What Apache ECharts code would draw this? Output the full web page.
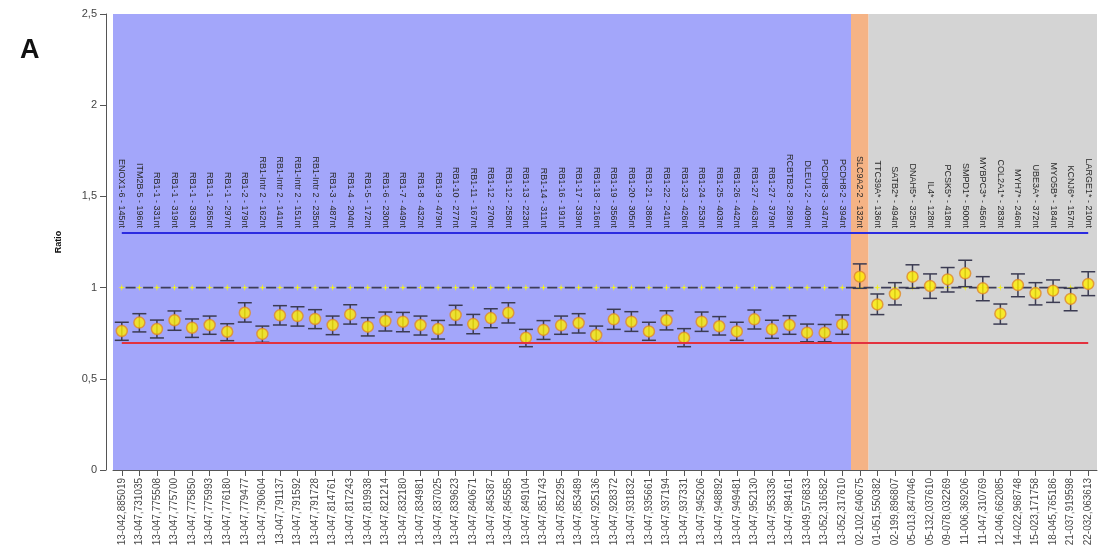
<!DOCTYPE html>
<html>
<head>
<meta charset="utf-8">
<script src="https://cdn.jsdelivr.net/npm/echarts@6/dist/echarts.min.js"></script>
<style>
  html, body { margin: 0; padding: 0; background: #ffffff; }
  #chart { width: 1100px; height: 554px; }
</style>
</head>
<body>
<div id="chart"></div>
<script>
// Probe names (top labels), split by region
const deletionProbes = [
  'ENOX1-6 - 145nt', 'ITM2B-5 - 196nt', 'RB1-1 - 331nt', 'RB1-1 - 319nt', 'RB1-1 - 363nt',
  'RB1-1 - 265nt', 'RB1-1 - 297nt', 'RB1-2 - 179nt', 'RB1-Intr 2 - 162nt', 'RB1-Intr 2 - 141nt',
  'RB1-Intr 2 - 151nt', 'RB1-Intr 2 - 235nt', 'RB1-3 - 487nt', 'RB1-4 - 204nt', 'RB1-5 - 172nt',
  'RB1-6 - 230nt', 'RB1-7 - 449nt', 'RB1-8 - 432nt', 'RB1-9 - 479nt', 'RB1-10 - 277nt',
  'RB1-11 - 167nt', 'RB1-12 - 270nt', 'RB1-12 - 258nt', 'RB1-13 - 223nt', 'RB1-14 - 311nt',
  'RB1-16 - 191nt', 'RB1-17 - 339nt', 'RB1-18 - 216nt', 'RB1-19 - 356nt', 'RB1-20 - 305nt',
  'RB1-21 - 386nt', 'RB1-22 - 241nt', 'RB1-23 - 426nt', 'RB1-24 - 253nt', 'RB1-25 - 403nt',
  'RB1-26 - 442nt', 'RB1-27 - 463nt', 'RB1-27 - 379nt', 'RCBTB2-8 - 289nt', 'DLEU1-2 - 409nt',
  'PCDH8-3 - 347nt', 'PCDH8-2 - 394nt'
];
const flankProbes = ['SLC9A2-2 - 132nt'];
const referenceProbes = [
  'TTC39A* - 136nt', 'SATB2* - 494nt', 'DNAH5* - 325nt', 'IL4* - 128nt', 'PCSK5* - 418nt',
  'SMPD1* - 500nt', 'MYBPC3* - 456nt', 'COL2A1* - 283nt', 'MYH7* - 246nt', 'UBE3A* - 372nt',
  'MYO5B* - 184nt', 'KCNJ6* - 157nt', 'LARGE1* - 210nt'
];

// Chromosome positions (bottom labels)
const deletionPositions = [
  '13-042,885019', '13-047,731035', '13-047,775508', '13-047,775700', '13-047,775850',
  '13-047,775993', '13-047,776180', '13-047,779477', '13-047,790604', '13-047,791137',
  '13-047,791592', '13-047,791728', '13-047,814761', '13-047,817243', '13-047,819938',
  '13-047,821214', '13-047,832180', '13-047,834981', '13-047,837025', '13-047,839623',
  '13-047,840671', '13-047,845387', '13-047,845585', '13-047,849104', '13-047,851743',
  '13-047,852295', '13-047,853489', '13-047,925136', '13-047,928372', '13-047,931832',
  '13-047,935661', '13-047,937194', '13-047,937331', '13-047,945206', '13-047,948892',
  '13-047,949481', '13-047,952130', '13-047,953336', '13-047,984161', '13-049,576833',
  '13-052,316582', '13-052,317610'
];
const flankPositions = ['02-102,640675'];
const referencePositions = [
  '01-051,550382', '02-199,896807', '05-013,847046', '05-132,037610', '09-078,032269',
  '11-006,369206', '11-047,310769', '12-046,662085', '14-022,968748', '15-023,171758',
  '18-045,765186', '21-037,919598', '22-032,063613'
];

// Probe ratios with lower / upper interval bounds
const ratio = [
  0.762, 0.808, 0.773, 0.821, 0.780, 0.795, 0.758, 0.862, 0.746, 0.848,
  0.844, 0.828, 0.795, 0.853, 0.786, 0.817, 0.813, 0.795, 0.773, 0.850,
  0.800, 0.833, 0.862, 0.725, 0.768, 0.793, 0.806, 0.740, 0.826, 0.813,
  0.760, 0.821, 0.725, 0.813, 0.788, 0.760, 0.826, 0.771, 0.795, 0.753,
  0.753, 0.798,
  1.060,
  0.908, 0.965, 1.060, 1.009, 1.045, 1.078, 0.996, 0.857, 1.014, 0.969,
  0.983, 0.938, 1.020
];
const ciLow = [
  0.711, 0.757, 0.724, 0.766, 0.727, 0.744, 0.709, 0.811, 0.700, 0.795,
  0.789, 0.775, 0.742, 0.800, 0.735, 0.762, 0.758, 0.740, 0.718, 0.795,
  0.747, 0.780, 0.806, 0.676, 0.716, 0.744, 0.751, 0.698, 0.771, 0.760,
  0.711, 0.768, 0.676, 0.760, 0.740, 0.711, 0.773, 0.722, 0.744, 0.703,
  0.703, 0.744,
  0.996,
  0.852, 0.905, 0.996, 0.941, 0.976, 1.005, 0.928, 0.800, 0.950, 0.905,
  0.919, 0.873, 0.956
];
const ciHigh = [
  0.810, 0.857, 0.822, 0.872, 0.828, 0.844, 0.802, 0.917, 0.789, 0.901,
  0.895, 0.879, 0.844, 0.906, 0.835, 0.866, 0.864, 0.844, 0.820, 0.903,
  0.853, 0.884, 0.917, 0.771, 0.819, 0.844, 0.857, 0.789, 0.881, 0.868,
  0.810, 0.873, 0.775, 0.866, 0.841, 0.810, 0.877, 0.821, 0.846, 0.800,
  0.798, 0.850,
  1.130,
  0.965, 1.027, 1.125, 1.075, 1.110, 1.150, 1.060, 0.910, 1.075, 1.027,
  1.042, 0.996, 1.087
];

const upperLimit = 1.3;
const lowerLimit = 0.7;
const expectedRatio = 1;
const yMin = 0, yMax = 2.5, yStep = 0.5;

const regionColors = ['#a3a6fa', '#f5b385', '#d4d4d4'];

const probeNames = deletionProbes.concat(flankProbes, referenceProbes);
const positions = deletionPositions.concat(flankPositions, referencePositions);

// background regions as [firstIndex, lastIndex, colorIndex]
const regions = [];
[deletionProbes, flankProbes, referenceProbes].reduce((start, group, k) => {
  regions.push([start, start + group.length - 1, k]);
  return start + group.length;
}, 0);

const errorData = positions.map((p, i) => [i, ciLow[i], ciHigh[i]]);
const expectedLine = positions.map(() => expectedRatio);

const chart = echarts.init(document.getElementById('chart'), null, { renderer: 'canvas' });

const fontFamily = 'Liberation Sans, Arial, sans-serif';

chart.setOption({
  animation: false,
  backgroundColor: '#ffffff',
  title: {
    text: 'A',
    left: 15,
    top: 32,
    textStyle: { fontSize: 27, fontWeight: 'bold', color: '#111', fontFamily }
  },
  grid: {
    left: 113, right: 3, top: 14, bottom: 84,
    outerBoundsMode: 'none'
  },
  xAxis: [
    {
      type: 'category',
      data: positions,
      position: 'bottom',
      axisLine: { show: true, lineStyle: { color: '#555', width: 1 } },
      axisTick: { show: true, alignWithLabel: true, length: 6, lineStyle: { color: '#555' } },
      axisLabel: {
        interval: 0, rotate: 90, margin: 8,
        fontSize: 10, color: '#4a4a4a', fontFamily
      },
      splitLine: { show: false }
    },
    {
      type: 'category',
      data: probeNames,
      position: 'top',
      offset: -216,
      axisLine: { show: false },
      axisTick: { show: false },
      axisLabel: {
        interval: 0, rotate: 90, margin: 2,
        fontSize: 9, color: '#2a2a2a', fontFamily
      },
      splitLine: { show: false }
    }
  ],
  yAxis: {
    type: 'value',
    min: yMin, max: yMax, interval: yStep,
    offset: 7,
    name: 'Ratio',
    nameLocation: 'middle',
    nameGap: 43,
    nameTextStyle: { fontSize: 9, fontWeight: 'bold', color: '#111', fontFamily },
    axisLine: { show: true, lineStyle: { color: '#555', width: 1 } },
    axisTick: { show: true, length: 6, lineStyle: { color: '#555' } },
    axisLabel: {
      margin: 9, fontSize: 11, color: '#444', fontFamily,
      formatter: v => String(v).replace('.', ',')
    },
    splitLine: { show: false }
  },
  series: [
    {
      // coloured probe-region backgrounds
      type: 'custom',
      silent: true,
      z: 0,
      data: regions,
      encode: { x: [0, 1] },
      renderItem(params, api) {
        const band = api.size([1, 0])[0];
        const a = api.coord([api.value(0), yMax]);
        const b = api.coord([api.value(1), yMin]);
        return {
          type: 'rect',
          shape: { x: a[0] - band / 2, y: a[1], width: b[0] - a[0] + band, height: b[1] - a[1] },
          style: { fill: regionColors[api.value(2)] }
        };
      }
    },
    {
      // expected ratio reference
      type: 'line',
      silent: true,
      z: 2,
      data: expectedLine,
      symbol: 'path://M5,0L6,4L10,5L6,6L5,10L4,6L0,5L4,4Z',
      symbolSize: 7,
      showSymbol: true,
      itemStyle: { color: '#f2f21e' },
      lineStyle: { color: '#3e3e58', width: 1.6, type: [10, 7.57], dashOffset: 13.78 }
    },
    {
      // interval bars
      type: 'custom',
      silent: true,
      z: 3,
      data: errorData,
      encode: { x: 0, y: [1, 2] },
      renderItem(params, api) {
        const lo = api.coord([api.value(0), api.value(1)]);
        const hi = api.coord([api.value(0), api.value(2)]);
        const hw = 7;
        const style = { stroke: '#3b3b52', lineWidth: 1.5 };
        return {
          type: 'group',
          children: [
            { type: 'line', shape: { x1: lo[0], y1: lo[1], x2: hi[0], y2: hi[1] }, style },
            { type: 'line', shape: { x1: lo[0] - hw, y1: lo[1], x2: lo[0] + hw, y2: lo[1] }, style },
            { type: 'line', shape: { x1: hi[0] - hw, y1: hi[1], x2: hi[0] + hw, y2: hi[1] }, style }
          ]
        };
      },
      markLine: {
        silent: true,
        symbol: 'none',
        label: { show: false },
        data: [
          [{ coord: [positions[0], upperLimit] }, { coord: [positions[positions.length - 1], upperLimit] }],
          [{ coord: [positions[0], lowerLimit], lineStyle: { color: '#e3323e' } },
           { coord: [positions[positions.length - 1], lowerLimit] }]
        ],
        lineStyle: { color: '#2b2be0', width: 2, type: 'solid' }
      }
    },
    {
      type: 'scatter',
      silent: true,
      z: 4,
      data: ratio,
      symbol: 'circle',
      symbolSize: 11,
      itemStyle: { color: '#ffef00', borderColor: '#e0892a', borderWidth: 1.5 }
    }
  ]
});
</script>
</body>
</html>
